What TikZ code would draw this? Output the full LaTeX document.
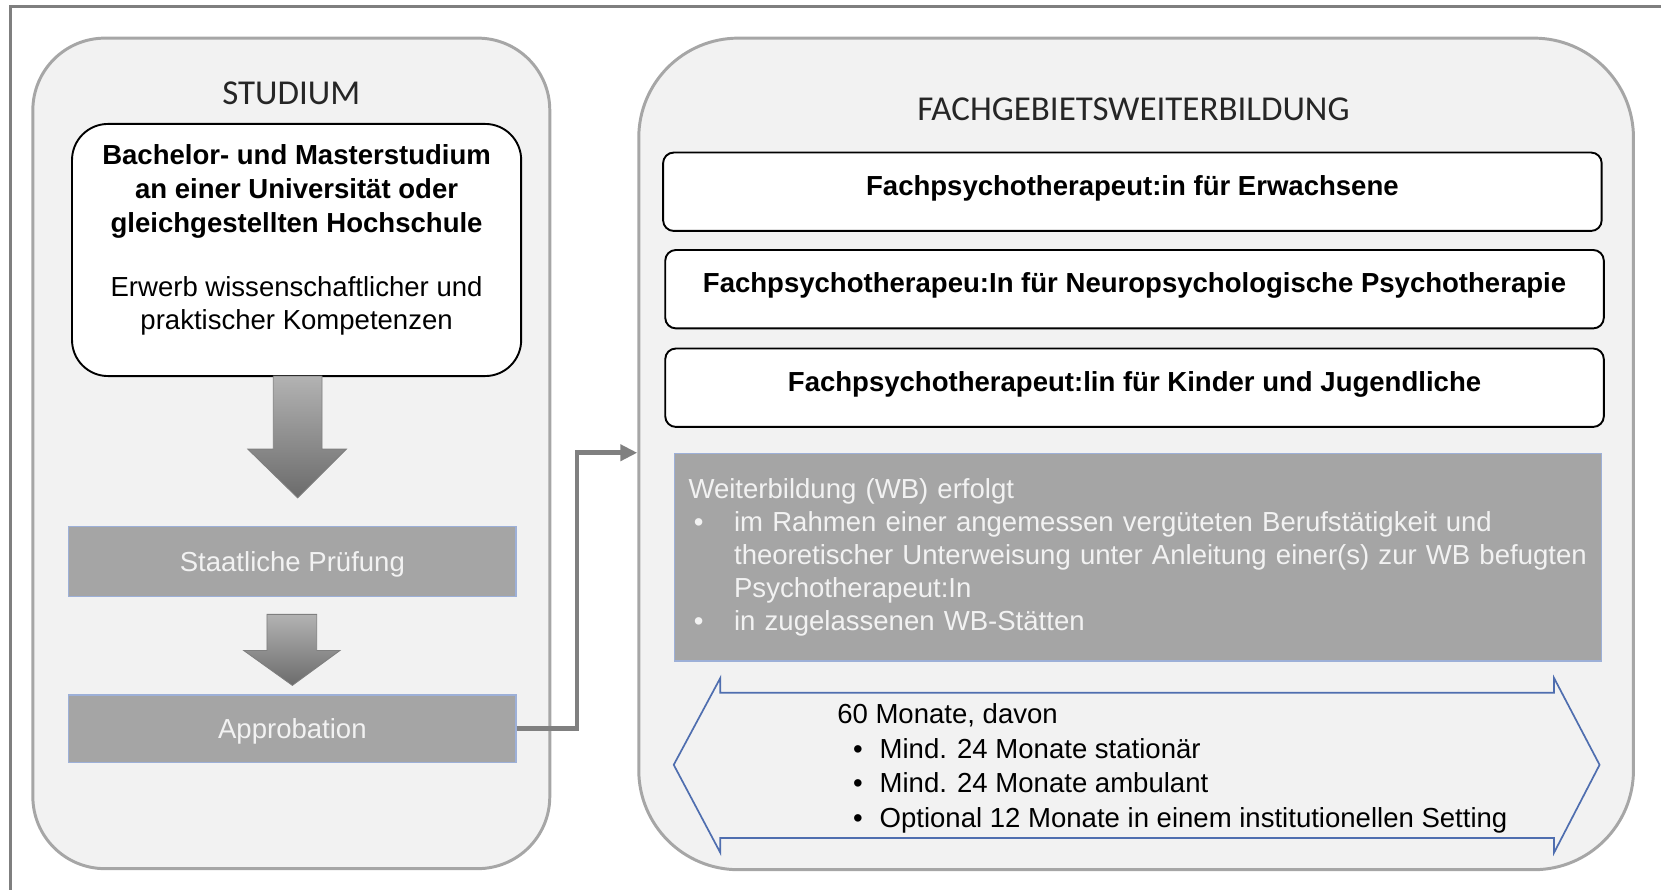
\documentclass[tikz,border=0pt]{standalone}
\usepackage{fontspec}
\setmainfont{Liberation Sans}
\newfontfamily\titlefont{Carlito}
\usetikzlibrary{arrows.meta}
\definecolor{panelfill}{HTML}{F2F2F2}
\definecolor{paneldraw}{HTML}{A6A6A6}
\definecolor{framegray}{HTML}{7F7F7F}
\definecolor{boxgray}{HTML}{A5A5A5}
\definecolor{boxedge}{HTML}{9DB0D8}
\definecolor{arrowblue}{HTML}{4F6EAF}
\definecolor{linegray}{HTML}{808080}
\tikzstyle{panel} = [rectangle, draw=paneldraw, line width=1.4pt, fill=panelfill]
\tikzstyle{paneltitle} = [font=\titlefont\fontsize{16.5}{20}\selectfont, text=black!85]
\tikzstyle{whitebox} = [rectangle, draw, line width=0.9pt, fill=white, rounded corners=17pt,
minimum width=212pt, minimum height=119pt]
\tikzstyle{fachbox} = [rectangle, draw, line width=0.9pt, fill=white, rounded corners=5pt,
minimum width=443pt, minimum height=37pt, font=\bfseries\fontsize{13}{16}\selectfont, text height=10pt, text depth=6.7pt]
\tikzstyle{graybox} = [rectangle, draw=boxedge, line width=0.6pt, fill=boxgray, text=panelfill,
font=\fontsize{13}{15.6}\selectfont]
\tikzstyle{stepbox} = [graybox, minimum width=211pt, minimum height=33pt, text height=11pt, text depth=1.7pt]
\tikzstyle{blockarrow} = [draw=framegray, line width=0.4pt, top color=black!30, bottom color=black!58]
\tikzstyle{line} = [draw=linegray, line width=2.2pt, -{Triangle[length=8pt,width=7.5pt]}]
\newcommand{\wbitem}{\makebox[21.5pt][l]{\hspace{2.5pt}\textbullet}}
\newcommand{\wbind}{\hspace*{21.5pt}}
\newcommand{\dauitem}{\makebox[20pt][l]{\hspace{7.5pt}\textbullet}}

\begin{document}
\begin{tikzpicture}[x=0.5pt, y=-0.5pt]
		\useasboundingbox (0,0) rectangle (1568,840);
		\draw[framegray, line width=1.4pt] (10,840) -- (10,6.5) -- (1568,6.5);
		
		% left column
		\node [panel, rounded corners=34pt, minimum width=244pt, minimum height=392pt] (studium) at (275,428) {};
		\node [paneltitle] (studtitle) at (275,88) {STUDIUM};
		\node [whitebox] (bsc) at (280,236) {};
		\node [anchor=north, inner sep=0pt, align=center, font=\fontsize{13}{16}\selectfont] (bsctext) at (280,136)
		{\textbf{Bachelor- und Masterstudium}\\ \textbf{an einer Universität oder}\\ \textbf{gleichgestellten Hochschule}\\[14.5pt]
		Erwerb wissenschaftlicher und\\[-0.5pt] praktischer Kompetenzen};
		\node [stepbox] (staat) at (276,530) {Staatliche Prüfung};
		\node [stepbox, minimum height=32pt] (appr) at (276,688) {Approbation};
		\path [blockarrow] (258,355) -- (304,355) -- (304,424) -- (327,424) -- (281,470) -- (234,424) -- (258,424) -- cycle;
		\path [blockarrow] (252,580) -- (299,580) -- (299,614) -- (321,614) -- (276,647) -- (230,614) -- (252,614) -- cycle;
		
		% right column
		\node [panel, rounded corners=47pt, minimum width=469.5pt, minimum height=392.5pt] (fw) at (1072.5,428.5) {};
		\node [paneltitle] (fwtitle) at (1070,103) {FACHGEBIETSWEITERBILDUNG};
		\node [fachbox] (erw) at (1069,181) {Fachpsychotherapeut:in für Erwachsene};
		\node [fachbox] (neuro) at (1071,273) {Fachpsychotherapeu:In für Neuropsychologische Psychotherapie};
		\node [fachbox] (kjp) at (1071,366) {Fachpsychotherapeut:lin für Kinder und Jugendliche};
		\node [graybox, text width=424.5pt, inner xsep=6.5pt, align=left, minimum height=98pt] (wb) at (1074.5,526)
		{Weiterbildung (WB) erfolgt\\
		\wbitem im Rahmen einer angemessen vergüteten Berufstätigkeit und\\
		\wbind theoretischer Unterweisung unter Anleitung einer(s) zur WB befugten\\
		\wbind Psychotherapeut:In\\
		\wbitem in zugelassenen WB-Stätten};
		
		\draw [arrowblue, line width=0.8pt] (636,722) -- (680,640) -- (680,654) -- (1467,654) -- (1467,640) -- (1510,722)
		-- (1467,805) -- (1467,791) -- (680,791) -- (680,805) -- cycle;
		\node [anchor=north west, inner sep=0pt, align=left, font=\fontsize{13}{16.3}\selectfont] (dauer) at (790,664)
		{60 Monate, davon\\
		\dauitem Mind. 24 Monate stationär\\
		\dauitem Mind. 24 Monate ambulant\\
		\dauitem Optional 12 Monate in einem institutionellen Setting};
		
		\path [line] (appr.east) -- ++(57,0) |- (fw.west |- wb.north);
		\end{tikzpicture}
\end{document}
